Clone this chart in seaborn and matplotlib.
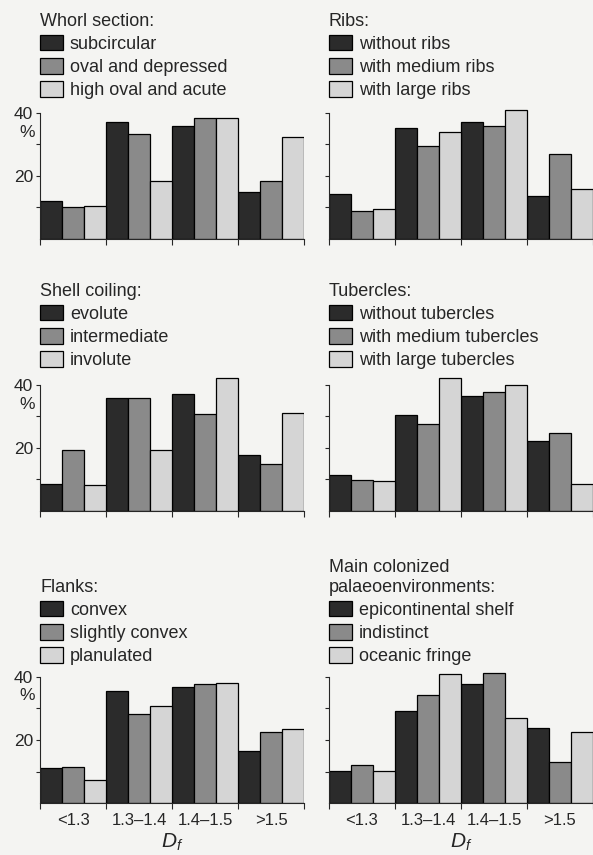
import pandas as pd
import seaborn as sns
import matplotlib.pyplot as plt

# D_f classes on the x axis
bins = ['<1.3', '1.3\u20131.4', '1.4\u20131.5', '>1.5']

# percentages, one list per class
whorl_title = 'Whorl section:'
whorl_classes = ['subcircular', 'oval and depressed', 'high oval and acute']
whorl_subcircular = [12, 37, 36, 15]
whorl_oval = [10, 33.3, 38.5, 18.4]
whorl_high = [10.5, 18.5, 38.4, 32.4]

ribs_title = 'Ribs:'
ribs_classes = ['without ribs', 'with medium ribs', 'with large ribs']
ribs_without = [14.2, 35.2, 37, 13.6]
ribs_medium = [8.9, 29.5, 35.8, 27]
ribs_large = [9.5, 33.9, 41, 15.9]

coil_title = 'Shell coiling:'
coil_classes = ['evolute', 'intermediate', 'involute']
coil_evolute = [8.5, 35.8, 37.2, 17.6]
coil_intermediate = [19.3, 35.8, 30.7, 14.8]
coil_involute = [8.1, 19.3, 42.1, 31.1]

tub_title = 'Tubercles:'
tub_classes = ['without tubercles', 'with medium tubercles', 'with large tubercles']
tub_without = [11.5, 30.4, 36.4, 22.1]
tub_medium = [9.7, 27.7, 37.9, 24.6]
tub_large = [9.3, 42.3, 40, 8.5]

flank_title = 'Flanks:'
flank_classes = ['convex', 'slightly convex', 'planulated']
flank_convex = [11.3, 35.6, 36.6, 16.6]
flank_slight = [11.6, 28.3, 37.6, 22.4]
flank_plan = [7.4, 30.8, 38.1, 23.4]

env_title = 'Main colonized\npalaeoenvironments:'
env_classes = ['epicontinental shelf', 'indistinct', 'oceanic fringe']
env_epi = [10.2, 29.3, 37.6, 23.8]
env_indistinct = [12.1, 34.2, 41.2, 12.9]
env_oceanic = [10.2, 41, 26.9, 22.5]

panels = [
    (whorl_title, whorl_classes, [whorl_subcircular, whorl_oval, whorl_high]),
    (ribs_title, ribs_classes, [ribs_without, ribs_medium, ribs_large]),
    (coil_title, coil_classes, [coil_evolute, coil_intermediate, coil_involute]),
    (tub_title, tub_classes, [tub_without, tub_medium, tub_large]),
    (flank_title, flank_classes, [flank_convex, flank_slight, flank_plan]),
    (env_title, env_classes, [env_epi, env_indistinct, env_oceanic]),
]

bg = '#f4f4f2'
colors = ['#2b2b2b', '#8a8a8a', '#d5d5d5']

sns.set_theme(style='ticks')
plt.rcParams['font.family'] = ['Liberation Sans', 'DejaVu Sans']
plt.rcParams['mathtext.fontset'] = 'custom'
plt.rcParams['mathtext.it'] = 'Liberation Sans:italic'

W, H = 593, 855
fig = plt.figure(figsize=(W / 100, H / 100), dpi=100, facecolor=bg)

# pixel layout: (baseline y, y of the 40 mark, legend bottom y)
rows = [(239, 113, 99), (510.7, 385, 369), (803.3, 676.7, 665)]
cols = [(40, 304), (329, 593)]
ymax = 43.5

for i, (title, classes, series) in enumerate(panels):
    r, c = divmod(i, 2)
    base, top40, leg_y = rows[r]
    x0, x1 = cols[c]
    per = (base - top40) / 40
    h = per * ymax
    ax = fig.add_axes([x0 / W, 1 - base / H, (x1 - x0) / W, h / H])
    ax.set_facecolor(bg)

    df = pd.DataFrame({
        'Df': [b for s in series for b in bins],
        'pct': [v for s in series for v in s],
        'cls': [cl for cl, s in zip(classes, series) for _ in bins],
    })
    sns.barplot(data=df, x='Df', y='pct', hue='cls', order=bins, hue_order=classes,
                palette=colors, width=1.0, edgecolor='black', linewidth=0.9,
                errorbar=None, ax=ax)

    ax.set_xlim(-0.5, 3.5)
    ax.set_ylim(0, ymax)
    sns.despine(ax=ax)
    ax.spines['left'].set_bounds(0, 40)
    ax.spines['left'].set_linewidth(0.8)
    ax.spines['bottom'].set_linewidth(0.8)

    ax.set_yticks([20, 40])
    ax.set_yticks([10, 30], minor=True)
    ax.tick_params(axis='y', which='both', length=3, width=0.8, pad=2, labelsize=12.5)
    ax.set_xticks([-0.5, 0.5, 1.5, 2.5, 3.5], minor=True)
    ax.tick_params(axis='x', which='minor', length=4, width=0.8)
    ax.tick_params(axis='x', which='major', length=0, pad=7, labelsize=12)
    ax.set_ylabel('')
    ax.set_xlabel('')

    if c == 0:
        ax.set_yticklabels(['20', '40'])
        ax.text(-0.02, 36.3, '%', transform=ax.get_yaxis_transform(),
                ha='right', va='top', fontsize=12.5)
    else:
        ax.set_yticklabels([])

    if r == 2:
        ax.set_xlabel('$D_f$', fontsize=15, labelpad=3)
    else:
        ax.set_xticklabels([])

    handles, labels = ax.get_legend_handles_labels()
    ax.legend(handles, labels, title=title, loc='lower left',
              bbox_to_anchor=(x0 / W, 1 - leg_y / H), bbox_transform=fig.transFigure,
              frameon=False, fontsize=13, title_fontsize=13, alignment='left',
              borderpad=0, borderaxespad=0, handlelength=1.3, handleheight=0.95,
              handletextpad=0.35, labelspacing=0.28)

fig.savefig('out.png', dpi=100, facecolor=bg)
